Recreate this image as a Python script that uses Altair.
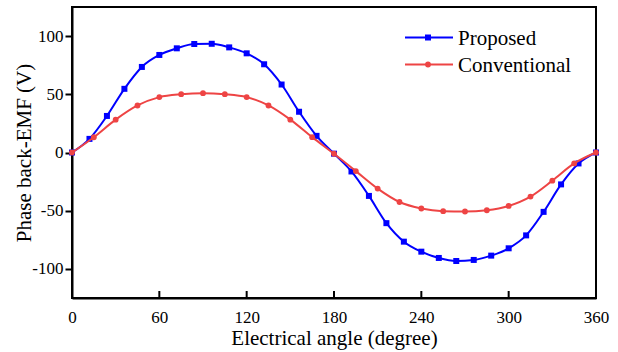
import altair as alt
import pandas as pd

# Proposed: every 12 degrees
prop_angle = [0, 12, 24, 36, 48, 60, 72, 84, 96, 108, 120, 132, 144, 156, 168, 180,
              192, 204, 216, 228, 240, 252, 264, 276, 288, 300, 312, 324, 336, 348, 360]
prop_emf = [0, 11.7, 31.4, 54.7, 73.5, 83.8, 89.5, 93.2, 93.4, 90.3, 85.2, 75.8, 58.4, 35.0, 14.3, -1.0,
            -16.3, -37.3, -60.7, -76.6, -85.2, -90.6, -93.2, -92.3, -88.6, -82.3, -71.2, -51.0, -27.4, -9.4, 0]

# Conventional: every 15 degrees
conv_angle = [0, 15, 30, 45, 60, 75, 90, 105, 120, 135, 150, 165, 180,
              195, 210, 225, 240, 255, 270, 285, 300, 315, 330, 345, 360]
conv_emf = [0, 13.1, 28.2, 40.4, 47.6, 50.1, 51.0, 50.1, 47.6, 40.4, 28.2, 13.2, -1.1,
            -16.0, -31.0, -42.5, -48.1, -50.4, -50.7, -49.6, -45.9, -37.9, -24.2, -9.4, 0]

series_names = ["Proposed", "Conventional"]
series_colors = ["#0000FF", "#EE4444"]
series_shapes = ["square", "circle"]

x_ticks = [0, 60, 120, 180, 240, 300, 360]
y_ticks = [-100, -50, 0, 50, 100]

FONT = "Liberation Serif"
W, H = 524, 291

prop_df = pd.DataFrame({"angle": prop_angle, "emf": prop_emf})
conv_df = pd.DataFrame({"angle": conv_angle, "emf": conv_emf})
tick_df = pd.DataFrame({"t": x_ticks[1:-1]})

xs = alt.Scale(domain=[0, 360], nice=False, zero=False)
ys = alt.Scale(domain=[-125, 125], nice=False, zero=False)

x_enc = alt.X("angle:Q", scale=xs, axis=alt.Axis(
    values=x_ticks, title="Electrical angle (degree)", ticks=False, grid=False,
    labelPadding=24, labelBaseline="alphabetic", labelFontSize=17, labelFont=FONT,
    labelColor="black", titleFont=FONT, titleFontSize=21, titleFontWeight="normal",
    titleColor="black", titleY=46, titleBaseline="alphabetic",
    domainColor="black", domainWidth=2, labelFlush=False))
y_enc = alt.Y("emf:Q", scale=ys, axis=alt.Axis(
    values=y_ticks, title="Phase back-EMF (V)", ticks=True, tickSize=7, tickWidth=2,
    tickColor="black", grid=False, labelPadding=2, labelFontSize=17, labelFont=FONT,
    labelColor="black", labelExpr="replace(datum.label, '\u2212', '-')",
    titleFont=FONT, titleFontSize=21, titleFontWeight="normal", titleColor="black",
    titleX=-48, titleY=145.5, titleAngle=270, titleAlign="center", titleBaseline="middle",
    domainColor="black", domainWidth=2))

def series_layers(df, color, shape, size):
    base = alt.Chart(df)
    line = base.mark_line(color=color, strokeWidth=2, interpolate="monotone").encode(x=x_enc, y=y_enc)
    pts = base.mark_point(color=color, fill=color, filled=True, shape=shape, size=size, opacity=1).encode(
        x=alt.X("angle:Q", scale=xs), y=alt.Y("emf:Q", scale=ys))
    return [line, pts]

layers = []
layers += series_layers(prop_df, series_colors[0], series_shapes[0], 36)
layers += series_layers(conv_df, series_colors[1], series_shapes[1], 34)

ticks = alt.Chart(tick_df).mark_rule(color="black", strokeWidth=2).encode(
    x=alt.X("t:Q", scale=xs), y=alt.value(H), y2=alt.value(H - 7))
layers.append(ticks)

# legend
leg_y = [30.5, 57.5]
for name, col, shp, sz, yy in zip(series_names, series_colors, series_shapes, [36, 34], leg_y):
    ld = pd.DataFrame({"name": [name]})
    b = alt.Chart(ld)
    layers.append(b.mark_rule(color=col, strokeWidth=2).encode(
        x=alt.value(333), x2=alt.value(381), y=alt.value(yy)))
    layers.append(b.mark_point(color=col, fill=col, filled=True, shape=shp, size=sz, opacity=1).encode(
        x=alt.value(356), y=alt.value(yy)))
    layers.append(b.mark_text(font=FONT, fontSize=21, color="black", align="left", baseline="middle").encode(
        x=alt.value(386), y=alt.value(yy + 1), text="name:N"))

chart = alt.layer(*layers).properties(
    width=W, height=H,
    autosize=alt.AutoSizeParams(type="none"),
    padding={"left": 72, "top": 7, "right": 22, "bottom": 54},
    background="white",
).configure_view(stroke="black", strokeWidth=2)

chart.save("out.html", embed_options={"renderer": "svg", "actions": False})
